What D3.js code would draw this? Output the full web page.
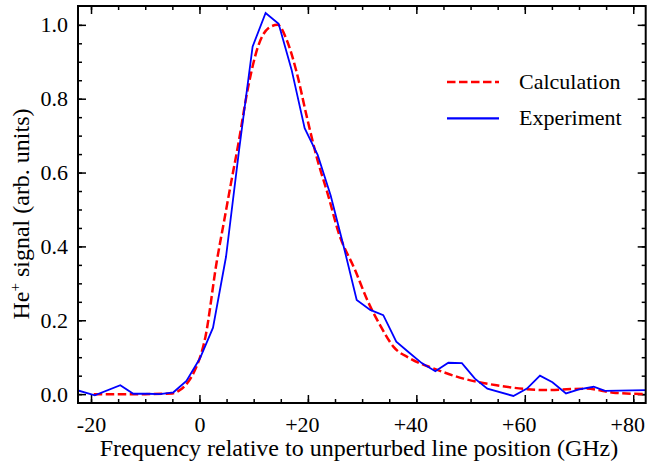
<!DOCTYPE html>
<html>
<head>
<meta charset="utf-8">
<script src="https://cdn.jsdelivr.net/npm/d3@7"></script>
<style>
  body { margin: 0; background: #fff; }
</style>
</head>
<body>
<div id="chart"></div>
<script>
// experiment (blue)
const expFreq = [-22.4, -19.3, -14.6, -12.2, -9.7, -7.3, -4.8, -2.4, 0.1, 2.5, 4.9, 7.3, 9.8, 12.2, 14.6,
    17.0, 19.4, 21.8, 24.2, 26.6, 29.0, 31.5, 33.9, 36.3, 38.7, 41.0, 43.5, 45.9, 48.4, 50.8, 53.1,
    57.9, 60.4, 62.8, 65.1, 67.6, 70.0, 72.7, 74.8, 82.5];
const expSignal = [0.010, -0.003, 0.024, 0.001, 0.001, 0.000, 0.005, 0.036, 0.097, 0.180, 0.372, 0.660, 0.941, 1.032, 1.003,
    0.878, 0.720, 0.648, 0.538, 0.400, 0.255, 0.228, 0.214, 0.142, 0.112, 0.084, 0.062, 0.085, 0.084, 0.042, 0.015,
    -0.005, 0.015, 0.050, 0.032, 0.002, 0.013, 0.020, 0.009, 0.011];

// calculation (red dashed)
const calcFreq = [-19.5, -10, -5, -3.6, -2.0, -1.0, 1.1, 3.2, 4.5, 5.8, 7.2, 9.0, 10.8, 12.7, 14.4,
    16.1, 17.9, 19.8, 21.6, 23.8, 25.6, 28.7, 31.1, 33.3, 35.8, 38.8, 43.1, 48.7, 54.8, 64.1, 71.4, 76.3, 82.5];
const calcSignal = [0.000, 0.000, 0.002, 0.011, 0.035, 0.060, 0.155, 0.360, 0.465, 0.570, 0.680, 0.833, 0.941, 0.991, 1.000,
    0.959, 0.873, 0.751, 0.643, 0.535, 0.440, 0.336, 0.250, 0.187, 0.128, 0.097, 0.070, 0.042, 0.024, 0.011, 0.015, 0.004, 0.000];

const xMajor = [-20, 0, 20, 40, 60, 80];
const yMajor = [0, 0.2, 0.4, 0.6, 0.8, 1.0];

const W = 647, H = 466;
const frame = {left: 78, right: 645.7, top: 6, bottom: 403};
const serif = "'Liberation Serif'";

const svg = d3.select('#chart').append('svg')
    .attr('width', W)
    .attr('height', H);

const x = d3.scaleLinear().domain([-22.4, 82.3]).range([frame.left, frame.right]);
const y = d3.scaleLinear().domain([-0.024, 1.051]).range([frame.bottom, frame.top]);

const xMinor = d3.range(-20, 81, 5);
const yMinor = d3.range(0, 1.04, 0.05);

const xFmt = d => d > 0 ? '+' + d : (d < 0 ? '-' + Math.abs(d) : '0');

function drawAxis(axis, tx, ty) {
    const g = svg.append('g')
        .attr('transform', 'translate(' + tx + ',' + ty + ')')
        .call(axis);
    g.select('.domain').remove();
    g.selectAll('line').attr('stroke', '#000').attr('stroke-width', 1.5);
    g.selectAll('text').style('font-size', '22px');
    return g;
}

// bottom / top
drawAxis(d3.axisBottom(x).tickValues(xMinor).tickSize(-4).tickFormat(''), 0, frame.bottom);
const xAxisG = drawAxis(d3.axisBottom(x).tickValues(xMajor).tickSize(-8).tickPadding(13).tickFormat(xFmt), 0, frame.bottom);
// the plus sign hangs left of the centred digits
xAxisG.selectAll('text').attr('dx', d => d > 0 ? -6 : 0);
drawAxis(d3.axisTop(x).tickValues(xMinor).tickSize(-4).tickFormat(''), 0, frame.top);
drawAxis(d3.axisTop(x).tickValues(xMajor).tickSize(-8).tickFormat(''), 0, frame.top);

// left / right
drawAxis(d3.axisLeft(y).tickValues(yMinor).tickSize(-4).tickFormat(''), frame.left, 0);
drawAxis(d3.axisLeft(y).tickValues(yMajor).tickSize(-8).tickPadding(10).tickFormat(d3.format('.1f')), frame.left, 0);
drawAxis(d3.axisRight(y).tickValues(yMinor).tickSize(-4).tickFormat(''), frame.right, 0);
drawAxis(d3.axisRight(y).tickValues(yMajor).tickSize(-8).tickFormat(''), frame.right, 0);

svg.append('defs').append('clipPath').attr('id', 'clip')
    .append('rect')
    .attr('x', frame.left).attr('y', frame.top)
    .attr('width', frame.right - frame.left).attr('height', frame.bottom - frame.top);

const plot = svg.append('g').attr('clip-path', 'url(#clip)');

const calcLine = d3.line()
    .x((d, i) => x(calcFreq[i]))
    .y(d => y(d))
    .curve(d3.curveMonotoneX);

const expLine = d3.line()
    .x((d, i) => x(expFreq[i]))
    .y(d => y(d));

plot.append('path')
    .datum(calcSignal)
    .attr('d', calcLine)
    .attr('fill', 'none')
    .attr('stroke', '#ff0000')
    .attr('stroke-width', 2.5)
    .attr('stroke-dasharray', '8.5,3.5');

plot.append('path')
    .datum(expSignal)
    .attr('d', expLine)
    .attr('fill', 'none')
    .attr('stroke', '#0000ff')
    .attr('stroke-width', 1.8);

// frame
svg.append('rect')
    .attr('x', frame.left).attr('y', frame.top)
    .attr('width', frame.right - frame.left).attr('height', frame.bottom - frame.top)
    .attr('fill', 'none')
    .attr('stroke', '#000')
    .attr('stroke-width', 2);

// axis titles
svg.append('text')
    .attr('x', 359)
    .attr('y', 456)
    .attr('text-anchor', 'middle')
    .style('font-size', '24px')
    .text('Frequency relative to unperturbed line position (GHz)');

const yTitle = svg.append('text')
    .attr('transform', 'translate(29,214) rotate(-90)')
    .attr('text-anchor', 'middle')
    .style('font-size', '24px');
yTitle.append('tspan').text('He');
yTitle.append('tspan').attr('dy', -9).style('font-size', '15px').text('+');
yTitle.append('tspan').attr('dy', 9).text(' signal (arb. units)');

// legend
const legendItems = [
    {name: 'Calculation', color: '#ff0000', dash: '8.5,3.5', width: 2.5},
    {name: 'Experiment', color: '#0000ff', dash: null, width: 2.2}
];
const legend = svg.append('g');
legendItems.forEach((item, i) => {
    const ly = 82 + i * 36.3;
    legend.append('line')
        .attr('x1', 447).attr('x2', 499)
        .attr('y1', ly).attr('y2', ly)
        .attr('stroke', item.color)
        .attr('stroke-width', item.width)
        .attr('stroke-dasharray', item.dash);
    legend.append('text')
        .attr('x', 519)
        .attr('y', ly + 6.5)
        .style('font-size', '22px')
        .text(item.name);
});

svg.selectAll('text').style('font-family', serif).attr('fill', '#000');
</script>
</body>
</html>
